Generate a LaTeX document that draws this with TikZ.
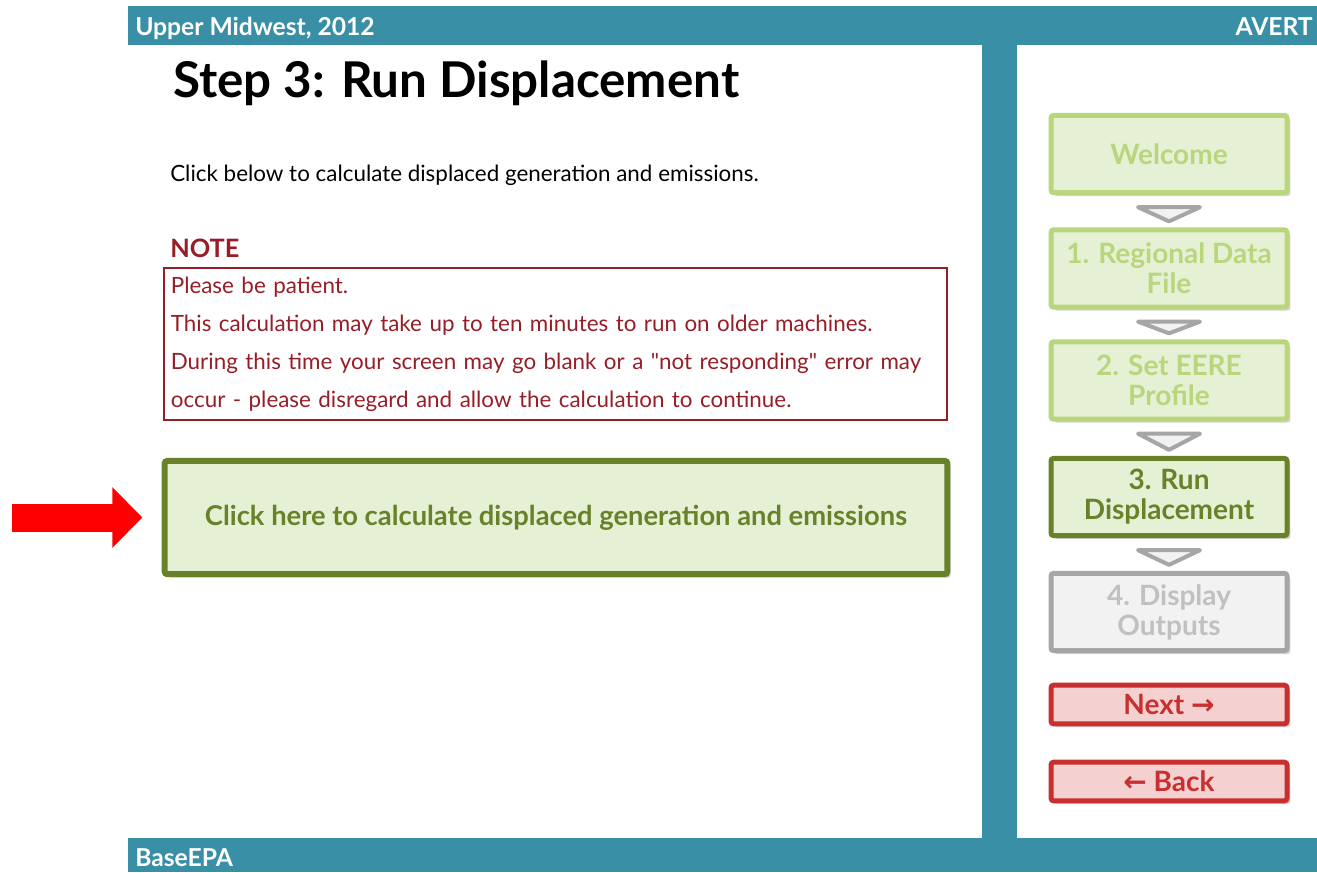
\documentclass[tikz,border=0pt]{standalone}
\usepackage{fontspec}
\setmainfont{Lato}
\newfontfamily\arrowfont{DejaVu Sans}
\usepackage{tikz}
\usetikzlibrary{arrows.meta, positioning, shadows}
\usepackage{xcolor}

\definecolor{averteal}{RGB}{57,143,166}
\definecolor{donegreen}{RGB}{185,214,125}
\definecolor{palegreen}{RGB}{230,240,212}
\definecolor{olivegreen}{RGB}{105,130,42}
\definecolor{todogray}{RGB}{166,166,166}
\definecolor{todofill}{RGB}{242,242,242}
\definecolor{todotext}{RGB}{192,192,192}
\definecolor{navred}{RGB}{200,48,48}
\definecolor{navpink}{RGB}{244,208,208}
\definecolor{notered}{RGB}{150,30,40}

\begin{document}
\begin{tikzpicture}[
      x=0.75pt, y=-0.75pt,
      bar/.style={fill=averteal},
      bartext/.style={text=white, inner sep=0pt, font=\fontsize{18.5}{22}\selectfont\bfseries},
      stepbox/.style={rounded corners=2pt, line width=3.75pt, minimum width=177pt, minimum height=58pt, align=center, font=\fontsize{21}{22.5}\selectfont\bfseries, drop shadow={shadow xshift=2.5pt, shadow yshift=-2.5pt, opacity=0.35}},
      done/.style={stepbox, draw=donegreen, fill=palegreen, text=donegreen},
      current/.style={stepbox, draw=olivegreen, fill=palegreen, text=olivegreen},
      todo/.style={stepbox, draw=todogray, fill=todofill, text=todotext},
      navbtn/.style={stepbox, draw=navred, fill=navpink, text=navred, minimum height=29pt},
      flow/.style={draw=todogray, fill=todofill, line width=3pt, line join=round},
      pointer/.style={red, line width=21pt, -{Triangle[width=44.25pt, length=22.5pt]}}
    ]
    \useasboundingbox (0,0) rectangle (1317,872);

    % Bars
    \fill[bar] (128,6) rectangle (1317,45);
    \fill[bar] (982,45) rectangle (1017,838);
    \fill[bar] (128,838) rectangle (1317,872);

    \node[bartext, anchor=base west] (region) at (135,35) {Upper Midwest, 2012};
    \node[bartext, anchor=base east] (avert) at (1313,35) {AVERT};
    \node[bartext, anchor=base west] (baseepa) at (135,866) {BaseEPA};

    % Main page
    \node[anchor=base west, inner sep=0pt, font=\fontsize{37}{42}\selectfont\bfseries] (title) at (173,97) {Step 3: Run Displacement};

    \node[anchor=base west, inner sep=0pt, font=\fontsize{16.8}{20}\selectfont] (intro) at (170,181) {Click below to calculate displaced generation and emissions.};

    \node[anchor=base west, inner sep=0pt, text=notered, font=\fontsize{19}{22}\selectfont\bfseries] (note) at (170,257) {NOTE};

    \node[draw=notered, line width=1.1pt, minimum width=587pt, minimum height=114pt, text width=577pt, align=left, inner xsep=4pt, text=notered, font=\fontsize{16.8}{28.5}\selectfont] (notebox) at (555.5,344) {Please be patient.\\This calculation may take up to ten minutes to run on older machines.\\During this time your screen may go blank or a \textquotedbl not responding\textquotedbl{} error may\\occur - please disregard and allow the calculation to continue.};

    \node[current, line width=4.5pt, minimum width=587pt, minimum height=85pt, font=\fontsize{20.5}{24}\selectfont\bfseries] (click) at (556,517.5) {Click here to calculate displaced generation and emissions};

    % Red arrow
    \coordinate (tail) at (12,517.5);
    \draw[pointer] (tail) -- ([xshift=-14.5pt]click.west);

    % Steps
    \node[done] (welcome) at (1169,154) {Welcome};

    \node[done] (regional) at (1169,268.5) {1. Regional Data\\File};

    \node[done] (eere) at (1169,380.5) {2. Set EERE\\Profile};

    \node[current] (run) at (1169,497) {3. Run\\Displacement};

    \node[todo] (display) at (1169,612) {4. Display\\Outputs};

    \node[navbtn] (next) at (1169,704.5) {Next {\arrowfont →}};

    \node[navbtn] (back) at (1169,781.5) {{\arrowfont ←} Back};

    % Triangles
    \draw[flow] ([shift={(-31,12)}]welcome.south) -- ([shift={(31,12)}]welcome.south) -- ([shift={(0,-6)}]regional.north) -- cycle;
    \draw[flow] ([shift={(-31,12)}]regional.south) -- ([shift={(31,12)}]regional.south) -- ([shift={(0,-6)}]eere.north) -- cycle;
    \draw[flow] ([shift={(-31,12)}]eere.south) -- ([shift={(31,12)}]eere.south) -- ([shift={(0,-6)}]run.north) -- cycle;
    \draw[flow] ([shift={(-31,12)}]run.south) -- ([shift={(31,12)}]run.south) -- ([shift={(0,-6)}]display.north) -- cycle;

  \end{tikzpicture}
\end{document}
